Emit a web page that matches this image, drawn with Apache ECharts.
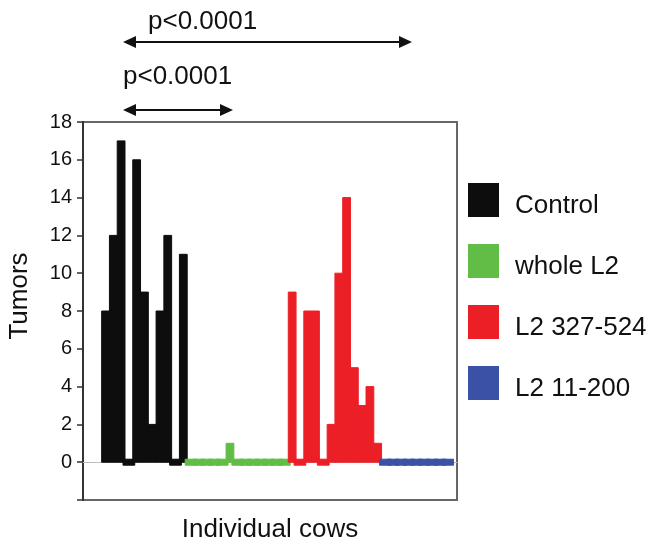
<!DOCTYPE html>
<html>
<head>
<meta charset="utf-8">
<script src="https://cdn.jsdelivr.net/npm/echarts@6/dist/echarts.min.js"></script>
<style>
    html,body{margin:0;padding:0;background:#fff}
    #chart{width:663px;height:549px}
</style>
</head>
<body>
<div id="chart"></div>
<script>
const groupNames = ["Control","whole L2","L2 327-524","L2 11-200"]
const groupColors = ["#0d0d0d","#62bd46","#ec1f27","#3a51a6"]
// tumors per cow, in the order the cows are drawn
const control = [8,12,17,0,16,9,2,8,12,0,11]
const wholeL2 = [0,0,0,0,0,1,0,0,0,0,0,0,0]
const l2_327_524 = [9,0,8,8,0,2,10,14,5,3,4,1]
const l2_11_200 = [0,0,0,0,0,0,0,0,0]
const yTicks = [-2,0,2,4,6,8,10,12,14,16,18]
const pLabels = ["p<0.0001","p<0.0001"]

const groups = [control,wholeL2,l2_327_524,l2_11_200]
const font = "'Liberation Sans', Arial, sans-serif"

const chartDom = document.getElementById("chart")
const myChart = echarts.init(chartDom)

let offset = 0
const series = groups.map((vals,gi)=>{
    const data = vals.map((v,i)=>[offset+i,v])
    offset += vals.length
    return {
        type:"custom",
        name:groupNames[gi],
        itemStyle:{color:groupColors[gi]},
        data:data,
        renderItem:(params,api)=>{
            const x = api.value(0)
            const v = api.value(1)
            const color = groupColors[gi]
            const style = {fill:color,stroke:color,lineWidth:1}
            if(v===0){
                // zero cows: short thick dash on the baseline
                const a = api.coord([x-0.5,0])
                const b = api.coord([x+0.5,0])
                return {type:"rect",shape:{x:a[0]-2,y:a[1]-3,width:b[0]-a[0]+4,height:6},style:style}
            }
            const p0 = api.coord([x-0.5,0])
            const p1 = api.coord([x+0.5,v])
            return {type:"rect",shape:{x:p0[0],y:p1[1],width:p1[0]-p0[0],height:p0[1]-p1[1]},style:style}
        }
    }
})

const arrow = (x1,x2,y)=>({
    type:"group",
    children:[
        {type:"line",shape:{x1:x1+8,y1:y,x2:x2-8,y2:y},style:{stroke:"#111",lineWidth:2}},
        {type:"polygon",shape:{points:[[x1,y],[x1+13,y-6],[x1+13,y+6]]},style:{fill:"#111"}},
        {type:"polygon",shape:{points:[[x2,y],[x2-13,y-6],[x2-13,y+6]]},style:{fill:"#111"}}
    ]
})

const option = {
    animation:false,
    grid:{left:83,top:122,width:374,height:378,show:true,borderColor:"#666",borderWidth:2,outerBoundsMode:"none",containLabel:false},
    legend:{
        orient:"vertical",
        left:468,
        top:183,
        padding:0,
        itemWidth:31,
        itemHeight:34,
        itemGap:25,
        icon:"rect",
        data:groupNames,
        formatter:name=>"{t|"+name+"}",
        textStyle:{
            fontSize:26,color:"#111",fontFamily:font,
            rich:{t:{fontSize:26,color:"#111",fontFamily:font,padding:[12,0,0,11]}}
        }
    },
    xAxis:{
        type:"value",
        min:-2.9,
        max:45.2,
        name:"Individual cows",
        nameLocation:"middle",
        nameGap:17,
        nameTextStyle:{fontSize:26,color:"#111",fontFamily:font,verticalAlign:"top"},
        axisLine:{show:true,onZero:true,lineStyle:{color:"#bbb",width:1}},
        axisTick:{show:false},
        axisLabel:{show:false},
        splitLine:{show:false}
    },
    yAxis:{
        type:"value",
        min:yTicks[0],
        max:yTicks[yTicks.length-1],
        interval:2,
        name:"Tumors",
        nameLocation:"middle",
        nameRotate:90,
        nameGap:50,
        nameTextStyle:{fontSize:26,color:"#111",fontFamily:font,padding:[0,0,0,30]},
        axisLine:{show:true,onZero:false,lineStyle:{color:"#333",width:2}},
        axisTick:{show:true,length:6,lineStyle:{color:"#333",width:1.5}},
        axisLabel:{fontSize:20,color:"#111",fontFamily:font,margin:11,formatter:v=>v<0?"":v},
        splitLine:{show:false}
    },
    graphic:[
        {type:"text",left:148,top:9,style:{text:pLabels[0],fontSize:26,fill:"#111",fontFamily:font}},
        arrow(123,412,42),
        {type:"text",left:123,top:64,style:{text:pLabels[1],fontSize:26,fill:"#111",fontFamily:font}},
        arrow(123,233,110)
    ],
    series:series
}
myChart.setOption(option)
</script>
</body>
</html>
